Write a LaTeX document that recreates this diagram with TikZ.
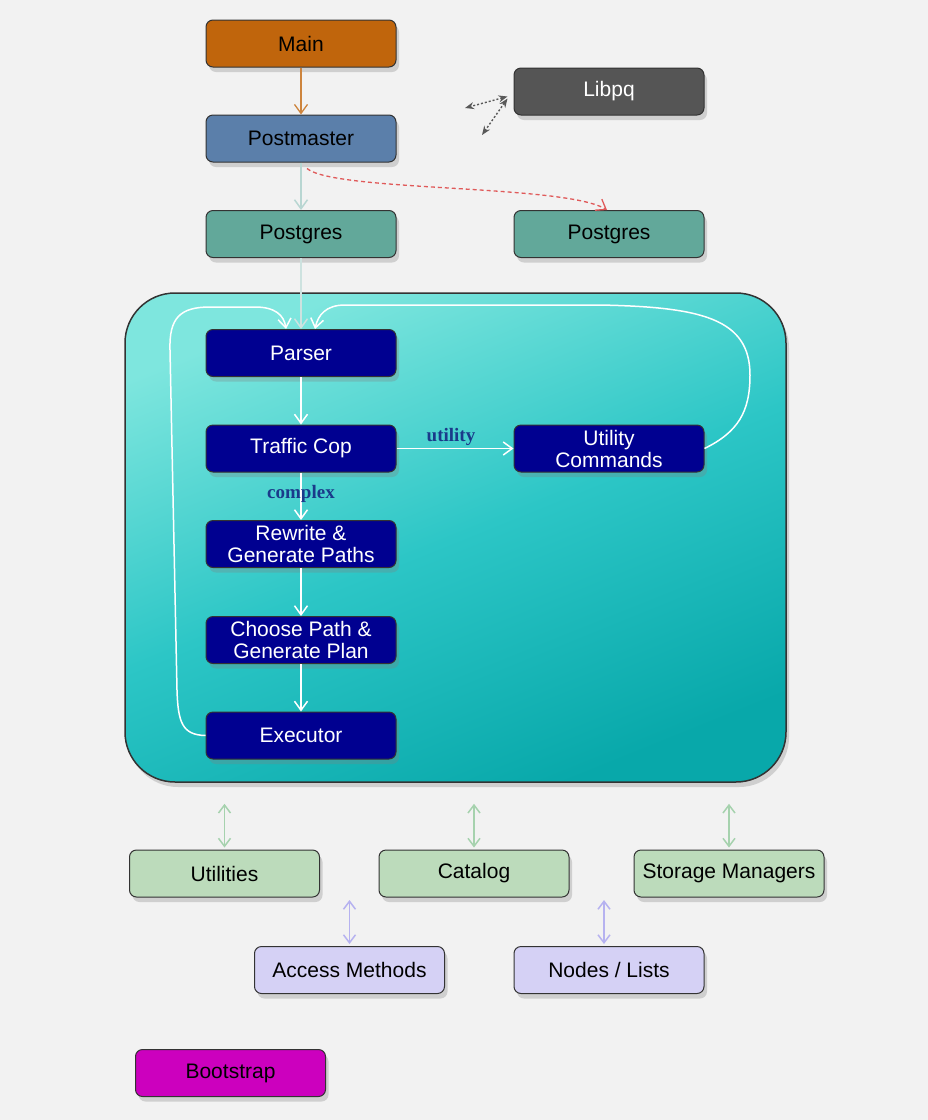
\documentclass[tikz,border=0pt]{standalone}
\usepackage{fontspec}
\setmainfont{Liberation Sans}
\newfontfamily\lblfont{Liberation Serif}
\usetikzlibrary{arrows.meta,shadows}
\definecolor{bgc}{HTML}{F2F2F2}
\definecolor{mainc}{HTML}{C0650C}
\definecolor{libc}{HTML}{555555}
\definecolor{pmc}{HTML}{5B7FAA}
\definecolor{pgc}{HTML}{62A89A}
\definecolor{navy}{HTML}{000090}
\definecolor{grn}{HTML}{BCDBBB}
\definecolor{lav}{HTML}{D5D1F5}
\definecolor{mag}{HTML}{CC00BE}
\definecolor{engtop}{HTML}{7EE6DE}
\definecolor{engmid}{HTML}{2CC6C6}
\definecolor{engbot}{HTML}{08A8AA}
\definecolor{lblc}{HTML}{1A3A8A}
\definecolor{grnarr}{HTML}{A6D2AE}
\definecolor{lavarr}{HTML}{B6B2F0}
\definecolor{redc}{HTML}{E05A5A}
\definecolor{lgray}{HTML}{B8D6D2}
\begin{document}
\begin{tikzpicture}[x=1pt,y=-1pt,
  box/.style={draw=black!80, line width=1pt, rounded corners=7pt,
    minimum width=190pt, minimum height=47pt, inner sep=2pt, align=center,
    font=\fontsize{21}{22}\selectfont,
    drop shadow={opacity=0.3, shadow xshift=3pt, shadow yshift=-5pt}},
  navybox/.style={box, fill=navy, text=white},
  barb/.style={-{Straight Barb[length=9pt,width=13pt]}},
  wline/.style={draw=white, line width=1.5pt, barb},
  lbl/.style={font=\lblfont\bfseries\fontsize{19}{21}\selectfont, text=lblc},
  grnline/.style={draw=grnarr, line width=1.5pt, {Straight Barb[length=8pt,width=12pt]}-{Straight Barb[length=8pt,width=12pt]}},
  lavline/.style={draw=lavarr, line width=1.5pt, {Straight Barb[length=8pt,width=12pt]}-{Straight Barb[length=8pt,width=12pt]}},
  libline/.style={draw=black!65, line width=1.4pt, dash pattern=on 2pt off 2pt,
    {Stealth[length=9pt,width=7pt]}-{Stealth[length=9pt,width=7pt]}}
]
\fill[bgc] (0,0) rectangle (928,1120);
\useasboundingbox (0,0) rectangle (928,1120);

% engine container
\node[draw=black!80, line width=1.5pt, rounded corners=50pt,
  minimum width=661pt, minimum height=489pt, inner sep=0pt,
  top color=engtop, bottom color=engbot, middle color=engmid, shading angle=22,
  drop shadow={opacity=0.3, shadow xshift=3pt, shadow yshift=-5pt}]
  (engine) at (455.5,537.5) {};

% top nodes
\node[box, fill=mainc] (Main) at (301,43.5) {Main};
\node[box, fill=libc, text=white] (Libpq) at (609,91.5) {Libpq};
\node[box, fill=pmc] (Postmaster) at (301,138.5) {Postmaster};
\node[box, fill=pgc] (PGa) at (301,234) {Postgres};
\node[box, fill=pgc] (PGb) at (609,234) {Postgres};

% engine nodes
\node[navybox] (Parser) at (301,353) {Parser};
\node[navybox] (TC) at (301,448.5) {Traffic Cop};
\node[navybox] (UC) at (609,448.5) {Utility\\Commands};
\node[navybox] (RW) at (301,544) {Rewrite \&\\Generate Paths};
\node[navybox] (CP) at (301,640) {Choose Path \&\\Generate Plan};
\node[navybox] (EX) at (301,735.5) {Executor};

% bottom nodes
\node[box, fill=grn] (Util) at (224.5,873.5) {Utilities};
\node[box, fill=grn] (Cat) at (474,873.5) {Catalog};
\node[box, fill=grn] (SM) at (729,873.5) {Storage Managers};
\node[box, fill=lav] (AM) at (349.5,970) {Access Methods};
\node[box, fill=lav] (NL) at (609,970) {Nodes / Lists};
\node[box, fill=mag] (Boot) at (230.5,1073) {Bootstrap};

% free ends
\coordinate (lp1) at (465,108);
\coordinate (lp2) at (482,135);
\coordinate (amtop) at (349.5,900);
\coordinate (nltop) at (604,900);

% top connectors
\draw[draw=mainc!80, line width=1.3pt, barb] (Main) -- (Postmaster);
\draw[draw=lgray, line width=1.5pt, barb] (Postmaster) -- (PGa);
\draw[draw=redc, line width=1.3pt, dash pattern=on 4pt off 3pt, barb]
  ([xshift=6pt,yshift=-6pt]Postmaster.south) .. controls (335,192) and (565,184) .. ([xshift=-2pt]PGb.north);
\draw[libline] ([xshift=-6pt,yshift=-5pt]Libpq.west) -- (lp1);
\draw[libline] ([xshift=-6pt,yshift=-7pt]Libpq.west) -- (lp2);
\draw[draw=lgray!70!white, line width=1.5pt, barb] (PGa) -- (Parser);

% engine flow
\draw[wline] (Parser) -- (TC);
\draw[wline] (TC) -- (RW);
\draw[wline] (RW) -- (CP);
\draw[wline] (CP) -- (EX);
\draw[wline] (TC) -- (UC);
\node[lbl] (lblutil) at (451,437) {utility};
\node[lbl] (lblcx) at (301,494) {complex};

% loops
\draw[wline] (EX.west) .. controls (182,735) and (178,722) .. (177,690)
  -- (170,350) .. controls (169,318) and (180,307) .. (210,307)
  -- (255,307) .. controls (275,307) and (284,315) .. ([xshift=-15pt]Parser.north);
\draw[wline] (UC.east) .. controls (738,432) and (750,412) .. (750,375)
  .. controls (750,318) and (700,307) .. (600,305)
  -- (345,305) .. controls (326,305) and (318,315) .. ([xshift=14pt]Parser.north);

% bottom connectors
\draw[grnline, shorten <=21pt, shorten >=2pt] (engine.south -| Util) -- (Util);
\draw[grnline, shorten <=21pt, shorten >=2pt] (engine.south -| Cat) -- (Cat);
\draw[grnline, shorten <=21pt, shorten >=2pt] (engine.south -| SM) -- (SM);
\draw[lavline, shorten >=2pt] (amtop) -- (AM);
\draw[lavline, shorten >=2pt] (nltop) -- (nltop |- NL.north);
\end{tikzpicture}
\end{document}
